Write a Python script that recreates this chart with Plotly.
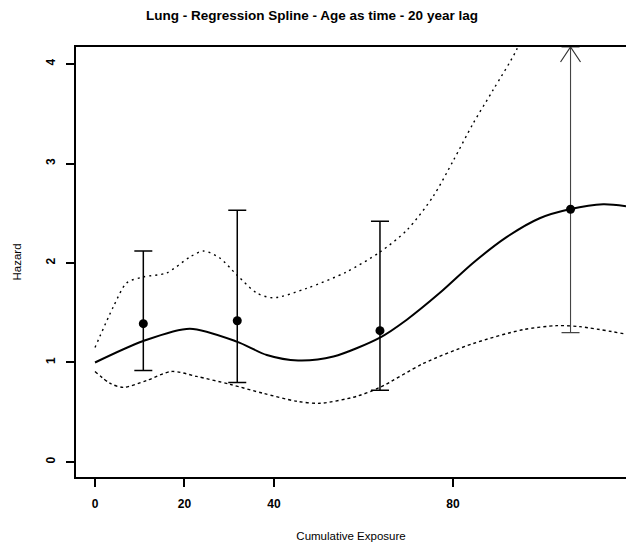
import plotly.graph_objects as go

# ---- data ----
fit_x = [0, 10.8, 21.2, 31.7, 38.4, 45.4, 53.3, 63.7, 69.7, 77.1, 84.5, 92.0, 99.4, 106.1, 113.6, 118.7]
fit_y = [1.00, 1.216, 1.34, 1.21, 1.075, 1.02, 1.06, 1.25, 1.43, 1.70, 2.00, 2.26, 2.45, 2.54, 2.59, 2.57]

upper_x = [0, 4.1, 7.1, 10.8, 16.0, 21.2, 24.2, 27.9, 31.7, 36.1, 39.8, 47.3, 56.2, 63.7, 69.7, 75.6, 80.1, 84.5, 89.0, 94.2, 96.5]
upper_y = [1.15, 1.56, 1.80, 1.86, 1.90, 2.06, 2.12, 2.05, 1.88, 1.70, 1.65, 1.745, 1.91, 2.11, 2.33, 2.67, 3.03, 3.40, 3.74, 4.14, 4.42]

lower_x = [0, 3.4, 6.3, 11.6, 17.1, 22.7, 30.2, 37.6, 45.1, 50.3, 58.5, 63.7, 73.4, 84.5, 95.7, 103.2, 108.4, 118.1]
lower_y = [0.91, 0.79, 0.75, 0.82, 0.91, 0.86, 0.78, 0.69, 0.61, 0.59, 0.66, 0.75, 0.99, 1.19, 1.33, 1.37, 1.36, 1.29]

pt_x = [10.8, 31.8, 63.7, 106.3]
pt_y = [1.39, 1.42, 1.32, 2.54]
pt_hi = [2.12, 2.53, 2.42, 6.00]
pt_lo = [0.92, 0.80, 0.72, 1.30]

x_ticks = [0, 20, 40, 80]
y_ticks = [0, 1, 2, 3, 4]

title = "Lung - Regression Spline - Age as time - 20 year lag"
x_title = "Cumulative Exposure"
y_title = "Hazard"

# ---- layout geometry ----
W, H = 626, 550
ML, MR, MT, MB = 76, 0, 47, 73
x_range = [-4.25, 118.7]
y_range = [-0.151, 4.171]
px_per_x = (W - ML - MR) / (x_range[1] - x_range[0])
px_per_y = (H - MT - MB) / (y_range[1] - y_range[0])

FONT = "Liberation Sans, Arial, Helvetica, sans-serif"

fig = go.Figure()

fig.add_trace(go.Scatter(x=upper_x, y=upper_y, mode="lines", line=dict(color="black", width=1.4, dash="2px,4px", shape="spline", smoothing=0.8), hoverinfo="skip"))
fig.add_trace(go.Scatter(x=lower_x, y=lower_y, mode="lines", line=dict(color="black", width=1.4, dash="3px,3px", shape="spline", smoothing=0.8), hoverinfo="skip"))
fig.add_trace(go.Scatter(x=fit_x, y=fit_y, mode="lines", line=dict(color="black", width=2, shape="spline", smoothing=0.8), hoverinfo="skip"))

inside = [i for i in range(len(pt_x)) if pt_hi[i] <= y_range[1]]
outside = [i for i in range(len(pt_x)) if pt_hi[i] > y_range[1]]

fig.add_trace(go.Scatter(
    x=[pt_x[i] for i in inside], y=[pt_y[i] for i in inside], mode="markers",
    marker=dict(color="black", size=9),
    error_y=dict(type="data", symmetric=False,
                 array=[pt_hi[i] - pt_y[i] for i in inside],
                 arrayminus=[pt_y[i] - pt_lo[i] for i in inside],
                 color="black", thickness=1.5, width=9)))

for i in outside:
    top = y_range[1]
    fig.add_trace(go.Scatter(
        x=[pt_x[i]], y=[pt_y[i]], mode="markers",
        marker=dict(color="black", size=9),
        error_y=dict(type="data", symmetric=False,
                     array=[top - pt_y[i]], arrayminus=[pt_y[i] - pt_lo[i]],
                     color="#444", thickness=1.1, width=9)))
    dx = 10 / px_per_x
    dy = 15 / px_per_y
    fig.add_trace(go.Scatter(
        x=[pt_x[i] - dx, pt_x[i], pt_x[i] + dx], y=[top - dy, top, top - dy],
        mode="lines", line=dict(color="#333", width=1.2), hoverinfo="skip"))

fig.update_layout(
    width=W, height=H, showlegend=False,
    margin=dict(l=ML, r=MR, t=MT, b=MB),
    paper_bgcolor="white", plot_bgcolor="white",
    font=dict(family=FONT, color="black"),
    title=dict(text="<b>" + title + "</b>", x=312 / W, xref="container", xanchor="center",
               y=1 - 15 / H, yref="container", yanchor="middle",
               font=dict(size=13.5, family=FONT, color="black")),
)

fig.update_xaxes(
    range=x_range, tickvals=x_ticks, ticktext=[str(v) for v in x_ticks],
    showgrid=False, zeroline=False, showline=True, linecolor="black", linewidth=2,
    mirror=True, ticks="outside", ticklen=8, tickwidth=1.5, tickcolor="black",
    ticklabelstandoff=7,
    tickfont=dict(size=12, family=FONT, color="black", weight="bold"),
    title=dict(text=x_title, font=dict(size=11.5, family=FONT, color="black"), standoff=22),
)
fig.update_yaxes(
    range=y_range, tickvals=y_ticks, ticktext=[str(v) for v in y_ticks],
    showgrid=False, zeroline=False, showline=True, linecolor="black", linewidth=2,
    mirror=False, ticks="outside", ticklen=8, tickwidth=1.5, tickcolor="black", tickangle=-90,
    ticklabelstandoff=6,
    tickfont=dict(size=12, family=FONT, color="black", weight="bold"),
    title=dict(text=y_title, font=dict(size=11.5, family=FONT, color="black"), standoff=20),
)

fig.write_html("out.html")
